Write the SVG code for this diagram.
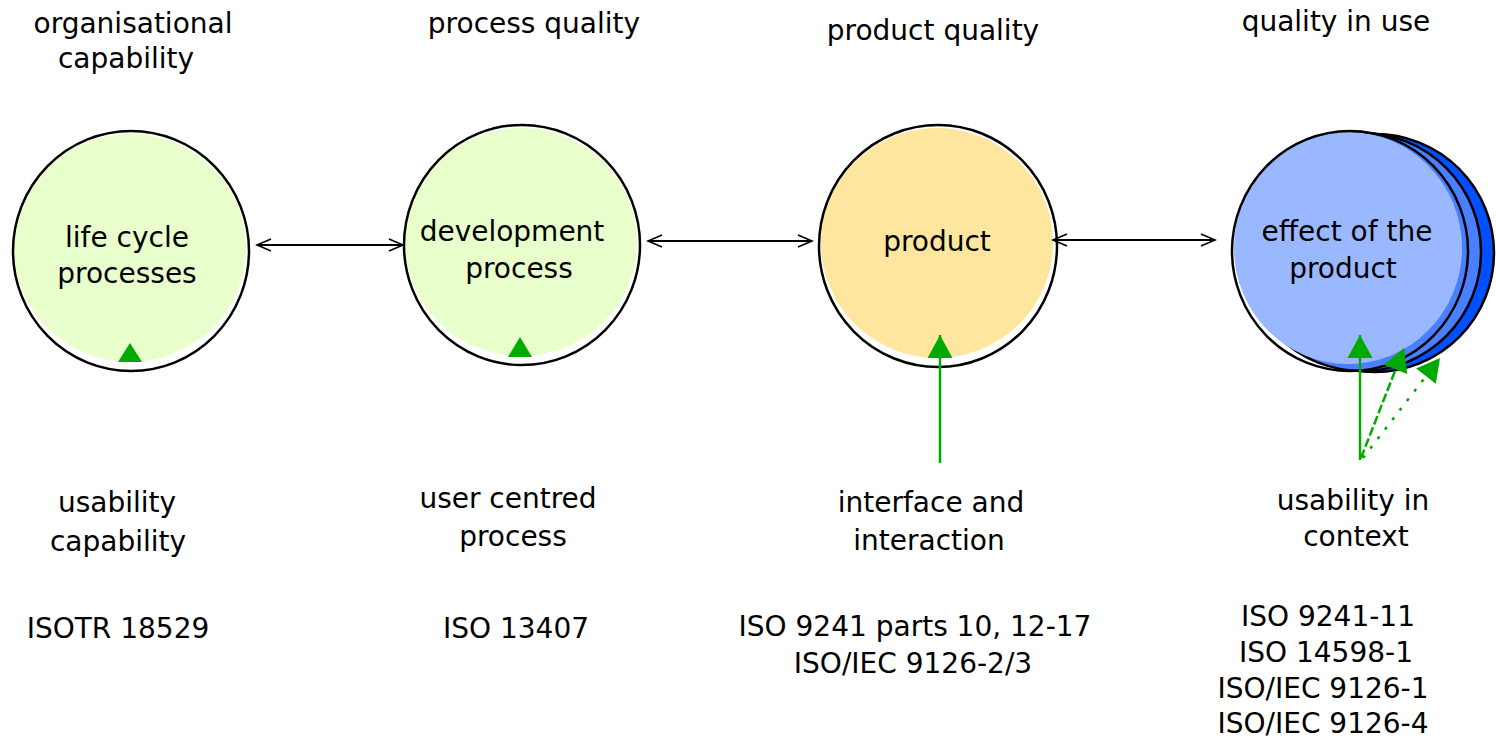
<svg xmlns="http://www.w3.org/2000/svg" width="1496" height="740" viewBox="0 0 1496 740">
  <style>
    text { font-family: "DejaVu Sans", Verdana, sans-serif; font-size: 28px; fill: #000; text-anchor: middle; }
    .ring { fill: none; stroke: #000; stroke-width: 2.5; }
    .link { fill: none; stroke: #000; stroke-width: 2.2; }
    .g-line { fill: none; stroke: #00aa00; stroke-width: 2.5; }
    .g-head { fill: #00aa00; }
  </style>
  <defs>
    <marker id="open" viewBox="-16 -8 18 16" refX="0" refY="0" markerWidth="18" markerHeight="16" markerUnits="userSpaceOnUse" orient="auto-start-reverse">
      <path d="M-14,-6 L0,0 L-14,6" fill="none" stroke="#000" stroke-width="1.6"/>
    </marker>
    <marker id="tri" viewBox="-24 -13 25 26" refX="0" refY="0" markerWidth="25" markerHeight="26" markerUnits="userSpaceOnUse" orient="auto">
      <path d="M0,0 L-23,-12.5 L-23,12.5 Z" fill="#00aa00"/>
    </marker>
  </defs>

  <!-- column headings -->
  <g id="headings">
    <text x="133" y="33">organisational</text>
    <text x="126" y="68">capability</text>
    <text x="534" y="33">process quality</text>
    <text x="933" y="40">product quality</text>
    <text x="1336" y="31">quality in use</text>
  </g>

  <!-- life cycle processes -->
  <g id="node-lifecycle">
    <ellipse cx="130" cy="248" rx="116" ry="114" fill="#e8ffcc"/>
    <ellipse class="ring" cx="131" cy="251" rx="118" ry="120"/>
    <text x="127" y="247">life cycle</text>
    <text x="127" y="283">processes</text>
    <polygon class="g-head" points="130,343 118,362 142,362"/>
  </g>

  <!-- development process -->
  <g id="node-development">
    <ellipse cx="521" cy="242" rx="116" ry="114" fill="#e8ffcc"/>
    <ellipse class="ring" cx="522" cy="245" rx="118" ry="120"/>
    <text x="512" y="241">development</text>
    <text x="519" y="278">process</text>
    <polygon class="g-head" points="520,337 508,357 532,357"/>
  </g>

  <!-- product -->
  <g id="node-product">
    <ellipse cx="937" cy="243" rx="116" ry="115" fill="#ffe69e"/>
    <ellipse class="ring" cx="938" cy="246" rx="119" ry="121"/>
    <text x="937" y="251">product</text>
  </g>

  <!-- effect of the product (stacked) -->
  <g id="node-effect">
    <circle cx="1375" cy="253" r="119" fill="#0050ff" stroke="#000" stroke-width="2.5"/>
    <circle cx="1362" cy="252" r="119" fill="#4a80ff" stroke="#000" stroke-width="2.5"/>
    <ellipse cx="1348" cy="248" rx="114" ry="116" fill="#99b8ff"/>
    <ellipse class="ring" cx="1350" cy="251" rx="118" ry="120"/>
    <text x="1347" y="241">effect of the</text>
    <text x="1343" y="278">product</text>
  </g>

  <!-- lower labels -->
  <g id="labels">
    <text x="117" y="512">usability</text>
    <text x="118" y="551">capability</text>
    <text x="508" y="508">user centred</text>
    <text x="513" y="546">process</text>
    <text x="931" y="512">interface and</text>
    <text x="929" y="550">interaction</text>
    <text x="1353" y="510">usability in</text>
    <text x="1356" y="546">context</text>
  </g>

  <!-- standards -->
  <g id="standards">
    <text x="118" y="638">ISOTR 18529</text>
    <text x="516" y="638">ISO 13407</text>
    <text x="915" y="636">ISO 9241 parts 10, 12-17</text>
    <text x="913" y="673">ISO/IEC 9126-2/3</text>
    <text x="1328" y="626">ISO 9241-11</text>
    <text x="1326" y="662">ISO 14598-1</text>
    <text x="1323" y="698">ISO/IEC 9126-1</text>
    <text x="1323" y="733">ISO/IEC 9126-4</text>
  </g>

  <!-- connectors -->
  <g id="connectors">
    <line class="link" x1="257" y1="245" x2="403" y2="245" marker-start="url(#open)" marker-end="url(#open)"/>
    <line class="link" x1="648" y1="241" x2="812" y2="241" marker-start="url(#open)" marker-end="url(#open)"/>
    <line class="link" x1="1053" y1="240" x2="1215" y2="240" marker-start="url(#open)" marker-end="url(#open)"/>

    <line class="g-line" x1="940" y1="463" x2="940" y2="335" marker-end="url(#tri)"/>
    <line class="g-line" x1="1360" y1="460" x2="1360" y2="335" marker-end="url(#tri)"/>
    <line class="g-line" x1="1361" y1="458" x2="1404" y2="348" stroke-dasharray="9,3" marker-end="url(#tri)"/>
    <line class="g-line" x1="1363" y1="458" x2="1440" y2="358" stroke-dasharray="3,9" marker-end="url(#tri)"/>
  </g>
</svg>
